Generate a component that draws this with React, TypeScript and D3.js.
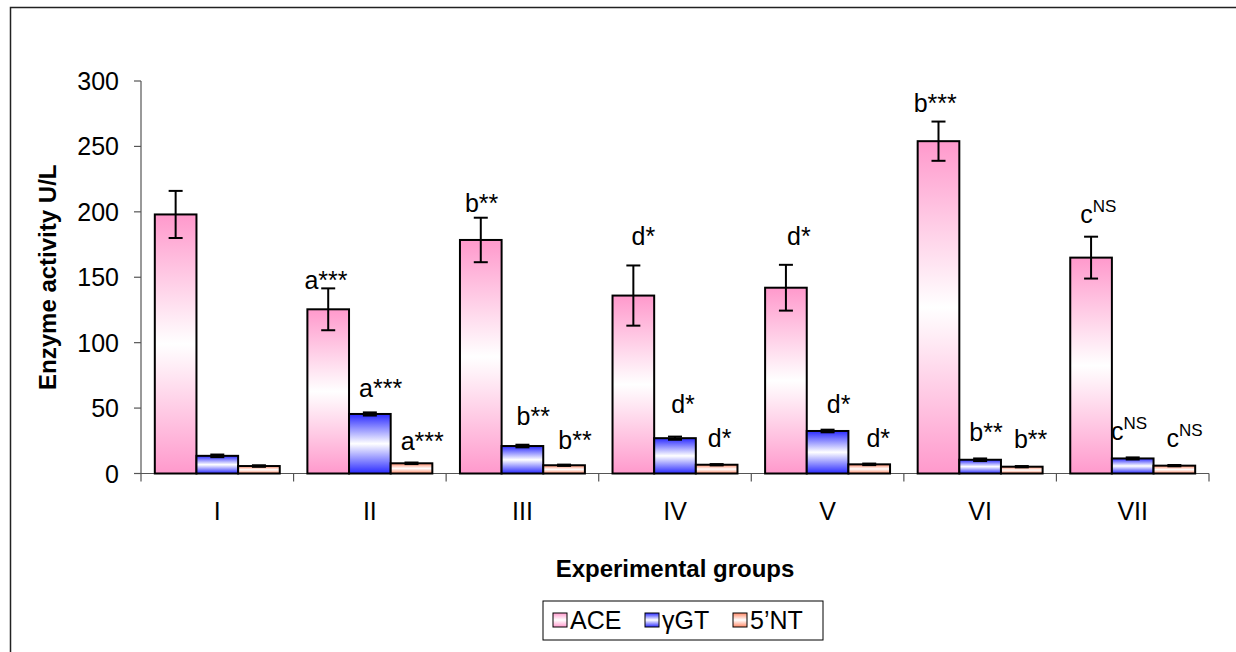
import React from "react";
import * as d3 from "d3";

const groups = ["I", "II", "III", "IV", "V", "VI", "VII"];
const seriesNames = ["ACE", "γGT", "5’NT"];
const aceValues = [198, 125.5, 178.5, 136, 142, 254, 165];
const aceErrors = [18, 16, 17, 23, 17.5, 15, 16];
const ggtValues = [13.5, 45.5, 21, 27, 32.5, 10.5, 11.5];
const ggtErrors = [1, 1.2, 1, 1.2, 1, 1, 0.8];
const ntValues = [5.7, 7.8, 6.3, 6.7, 7, 5.2, 6];
const ntErrors = [0.6, 0.6, 0.5, 0.5, 0.6, 0.5, 0.5];
const yTicks = [0, 50, 100, 150, 200, 250, 300];

// significance labels: group index, series index, letter, suffix
const sigGroup = [1, 1, 1, 2, 2, 2, 3, 3, 3, 4, 4, 4, 5, 5, 5, 6, 6, 6];
const sigSeries = [0, 1, 2, 0, 1, 2, 0, 1, 2, 0, 1, 2, 0, 1, 2, 0, 1, 2];
const sigLetter = ["a", "a", "a", "b", "b", "b", "d", "d", "d", "d", "d", "d", "b", "b", "b", "c", "c", "c"];
const sigSuffix = ["***", "***", "***", "**", "**", "**", "*", "*", "*", "*", "*", "*", "***", "**", "**", "NS", "NS", "NS"];
// label baseline (data units) and horizontal offset from bar's left edge (layout)
const sigBaseline = [141, 58.5, 18, 200, 37, 18.7, 174.7, 46, 20, 174.7, 46, 20, 276, 25, 19.5, 191.5, 25.6, 20];
const sigDx = [-3, 10, 10, 5, 15, 15, 19, 17, 12, 22, 20, 18, -4, 10, 13, 10, -1, 13];

const values = [aceValues, ggtValues, ntValues];
const errors = [aceErrors, ggtErrors, ntErrors];
const gradIds = ["gAce", "gGgt", "gNt"];
const gradColors = ["#FF99CC", "#2A2AFF", "#FF8866"];

const FONT = "'Liberation Sans', Arial, sans-serif";
const FS = 25;

export default function App() {
  const x0 = 141, x1 = 1209, yBase = 473.5, yTop = 81;
  const x = d3.scaleBand<string>().domain(groups).range([x0, x1]).paddingInner(0).paddingOuter(0);
  const inner = d3.scaleBand<number>().domain([0, 1, 2]).range([0, x.bandwidth()]).paddingOuter(0.3317);
  const y = d3.scaleLinear().domain([0, 300]).range([yBase, yTop]);
  const bw = inner.bandwidth();
  const boundaries = groups.map((g) => x(g)!).concat([x1]);

  return (
    <svg width={1236} height={652} style={{ position: "absolute", left: 0, top: 0 }} fontFamily={FONT}>
      <defs>
        {gradIds.map((id, i) => (
          <linearGradient key={id} id={id} x1="0" y1="0" x2="0" y2="1">
            <stop offset="0%" stopColor={gradColors[i]} />
            <stop offset="50%" stopColor="#FFFFFF" />
            <stop offset="100%" stopColor={gradColors[i]} />
          </linearGradient>
        ))}
      </defs>
      <rect x={10.5} y={7.5} width={1240} height={660} fill="white" stroke="#222" strokeWidth={1.5} />

      {/* Y axis */}
      <line x1={x0} x2={x0} y1={y(300)} y2={yBase} stroke="#555" strokeWidth={1.2} />
      {yTicks.map((t) => (
        <g key={t}>
          <line x1={x0 - 7} x2={x0} y1={y(t)} y2={y(t)} stroke="#555" strokeWidth={1.2} />
          <text x={x0 - 22} y={y(t)} dy="0.36em" textAnchor="end" fontSize={FS} fill="#000">{t}</text>
        </g>
      ))}
      {/* X axis */}
      <line x1={x0} x2={x1} y1={yBase} y2={yBase} stroke="#555" strokeWidth={1.2} />
      {boundaries.map((b, i) => (
        <line key={i} x1={b} x2={b} y1={yBase} y2={yBase + 8} stroke="#555" strokeWidth={1.2} />
      ))}
      {groups.map((g) => (
        <text key={g} x={x(g)! + x.bandwidth() / 2} y={520} textAnchor="middle" fontSize={FS}>{g}</text>
      ))}

      {/* Bars */}
      {values.map((vals, s) =>
        vals.map((v, gi) => {
          const bx = x(groups[gi])! + inner(s)!;
          return (
            <rect key={`${s}-${gi}`} x={bx} y={y(v)} width={bw} height={yBase - y(v)}
              fill={`url(#${gradIds[s]})`} stroke="#000" strokeWidth={2} />
          );
        })
      )}
      {/* Error bars */}
      {values.map((vals, s) =>
        vals.map((v, gi) => {
          const cx = x(groups[gi])! + inner(s)! + bw / 2;
          const e = errors[s][gi];
          const cap = 7;
          return (
            <g key={`e${s}-${gi}`} stroke="#000" strokeWidth={2}>
              <line x1={cx} x2={cx} y1={y(v + e)} y2={y(v - e)} />
              <line x1={cx - cap} x2={cx + cap} y1={y(v + e)} y2={y(v + e)} />
              <line x1={cx - cap} x2={cx + cap} y1={y(v - e)} y2={y(v - e)} />
            </g>
          );
        })
      )}

      {/* Significance labels */}
      {sigGroup.map((gi, k) => {
        const s = sigSeries[k];
        const bx = x(groups[gi])! + inner(s)!;
        const isNS = sigSuffix[k] === "NS";
        return (
          <text key={`s${k}`} x={bx + sigDx[k]} y={y(sigBaseline[k])} fontSize={FS}>
            {sigLetter[k]}
            {isNS ? (
              <tspan fontSize={17} dy={-11}>{sigSuffix[k]}</tspan>
            ) : (
              <tspan>{sigSuffix[k]}</tspan>
            )}
          </text>
        );
      })}

      {/* Axis titles */}
      <text transform={`translate(56, ${(y(300) + yBase) / 2}) rotate(-90)`} textAnchor="middle"
        fontSize={24} fontWeight="bold">Enzyme activity U/L</text>
      <text x={(x0 + x1) / 2} y={577} textAnchor="middle" fontSize={24} fontWeight="bold">Experimental groups</text>

      {/* Legend */}
      <rect x={543} y={601} width={280} height={39} fill="white" stroke="#000" strokeWidth={1} />
      {seriesNames.map((n, i) => {
        const lx = [553, 645, 733][i];
        return (
          <g key={n}>
            <rect x={lx} y={613} width={14} height={14} fill={`url(#${gradIds[i]})`} stroke="#000" strokeWidth={1} />
            <text x={lx + 17} y={629} fontSize={FS}>{n}</text>
          </g>
        );
      })}
    </svg>
  );
}
